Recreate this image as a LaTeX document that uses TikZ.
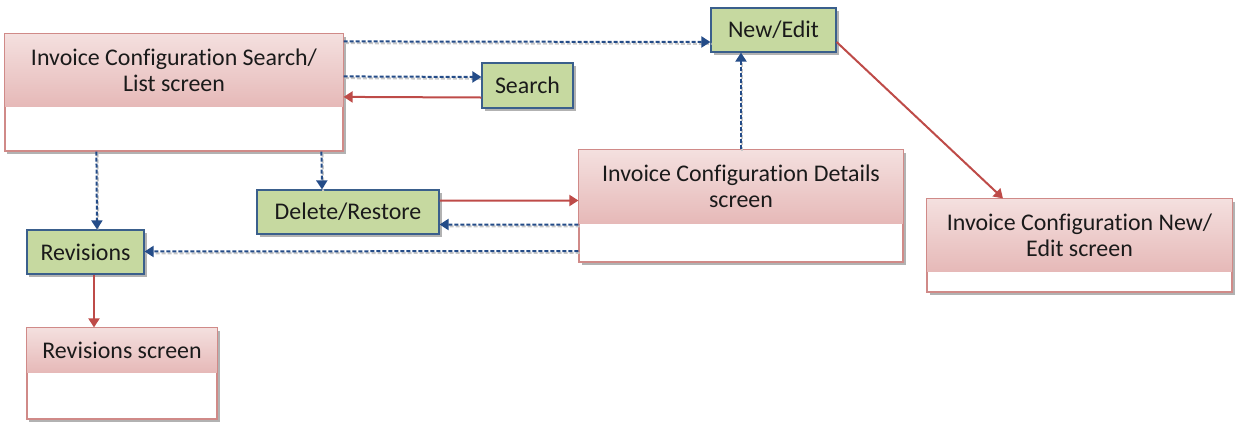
\documentclass[tikz,border=0pt]{standalone}
\usepackage{fontspec}
\setmainfont{Carlito}[Ligatures=NoCommon]
\usetikzlibrary{arrows.meta,shadows,calc}
\definecolor{lineblue}{HTML}{244C88}
\definecolor{linered}{HTML}{BE4B48}
\definecolor{actfill}{HTML}{C6D9A0}
\definecolor{actborder}{HTML}{3A5F8C}
\definecolor{scrborder}{HTML}{D08A88}
\definecolor{pinktop}{HTML}{F4E0DF}
\definecolor{pinkbot}{HTML}{E6B9B8}
\definecolor{txt}{HTML}{1A1A1A}
\newcommand\scrhead[3]{%
  \shade[top color=pinktop,bottom color=pinkbot] (#1.north west) rectangle ($(#1.north east)+(0,#2)$);
  \draw[scrborder,line width=1.2bp] (#1.north west) rectangle (#1.south east);
  \node[hdrtext] (#1T) at ($(#1.north)+(0,#2/2)$) {#3};}
\begin{document}
\begin{tikzpicture}[x=1bp,y=-1bp,
  boxshadow/.style={drop shadow={shadow xshift=2.5bp,shadow yshift=-2.5bp,fill=black,opacity=0.3}},
  actbox/.style={draw=actborder,fill=actfill,line width=1.2bp,minimum height=44bp,inner sep=0pt,
    boxshadow,font=\fontsize{24}{26}\selectfont,text=txt},
  screenbox/.style={draw=scrborder,fill=white,line width=1.2bp,inner sep=0pt,boxshadow},
  hdrtext/.style={align=center,font=\fontsize{24}{26}\selectfont,text=txt,inner sep=0pt},
  bluearrow/.style={draw=lineblue,line width=2bp,dash pattern=on 4bp off 2bp,
    -{Triangle[width=11bp,length=9bp]},
    preaction={draw=black!22,line width=2bp,dash pattern=on 4bp off 2bp,transform canvas={yshift=-1.8bp,xshift=1.2bp},-}},
  redarrow/.style={draw=linered,line width=2bp,-{Triangle[width=11bp,length=9bp]}}]
\useasboundingbox (0,0) rectangle (1235,423);

% screens
\node[screenbox,minimum width=338bp,minimum height=117bp] (list) at (174,92.5) {};
\scrhead{list}{73}{Invoice Configuration Search/\\List screen}
\node[screenbox,minimum width=324bp,minimum height=112bp] (details) at (741,206) {};
\scrhead{details}{74}{Invoice Configuration Details\\screen}
\node[screenbox,minimum width=305bp,minimum height=93bp] (nescreen) at (1079.5,245.5) {};
\scrhead{nescreen}{73}{Invoice Configuration New/\\Edit screen}
\node[screenbox,minimum width=190bp,minimum height=91bp] (revscreen) at (122,373.5) {};
\scrhead{revscreen}{45}{Revisions screen}

% action boxes
\node[actbox,minimum width=91bp,minimum height=45bp] (search) at (527.5,85.5) {Search};
\node[actbox,minimum width=125bp] (newedit) at (773.5,30) {New/Edit};
\node[actbox,minimum width=182bp] (delres) at (348,212) {Delete/Restore};
\node[actbox,minimum width=117bp] (revisions) at (85.5,252) {Revisions};

% connectors
\draw[bluearrow] ([yshift=-8bp]list.north east) -- ([yshift=-12bp]newedit.west);
\draw[bluearrow] ([yshift=-43bp]list.north east) -- ([yshift=8.5bp]search.west);
\draw[redarrow] ([yshift=-12bp]search.west) -- ([yshift=-63.5bp]list.north east);
\draw[bluearrow] ([xshift=92bp]list.south west) -- ([xshift=11.5bp]revisions.north);
\draw[bluearrow] ([xshift=317bp]list.south west) -- ([xshift=-26bp]delres.north);
\draw[redarrow] ([yshift=11.5bp]delres.east) -- ([yshift=5.5bp]details.west);
\draw[bluearrow] ([yshift=-18.5bp]details.west) -- ([yshift=-12.5bp]delres.east);
\draw[bluearrow] ([yshift=-45bp]details.west) -- ([yshift=0.5bp]revisions.east);
\draw[bluearrow] (details.north) -- (details.north |- newedit.south);
\draw[redarrow] ([yshift=-12bp]newedit.east) -- ([xshift=-76.5bp]nescreen.north);
\draw[redarrow] ([xshift=8.5bp]revisions.south) -- ([xshift=8.5bp]revisions.south |- revscreen.north);
\end{tikzpicture}
\end{document}
